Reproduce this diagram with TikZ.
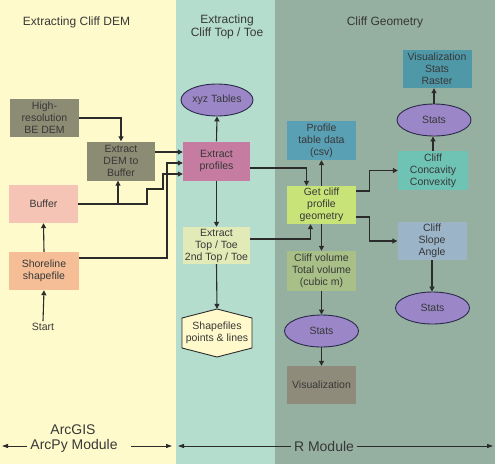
\documentclass[tikz,border=0pt]{standalone}
\usepackage{fontspec}
\setmainfont{Liberation Sans}
\usetikzlibrary{arrows.meta,shapes.geometric}
\definecolor{ylw}{HTML}{FFFACB}
\definecolor{tea}{HTML}{B5DDCE}
\definecolor{grn}{HTML}{95AFA0}
\definecolor{olv}{HTML}{8C8B73}
\definecolor{pnk}{HTML}{F6C4B4}
\definecolor{pch}{HTML}{F5BE96}
\definecolor{mauve}{HTML}{C57CA0}
\definecolor{paleyg}{HTML}{E2EAB7}
\definecolor{hexf}{HTML}{FFF9CC}
\definecolor{purp}{HTML}{9B87C8}
\definecolor{ellb}{HTML}{2A2A4A}
\definecolor{ptdc}{HTML}{5AA0B4}
\definecolor{gcpc}{HTML}{C8E478}
\definecolor{cvc}{HTML}{A8C088}
\definecolor{visc}{HTML}{8F8B7A}
\definecolor{vsrc}{HTML}{4E98A8}
\definecolor{cccc}{HTML}{6EC3B4}
\definecolor{csac}{HTML}{9BB4C8}
\definecolor{txt}{HTML}{383838}
\definecolor{lc}{HTML}{2B2B2B}
\tikzset{
  nfont/.style={font=\fontsize{10.5}{12}\selectfont},
  box/.style={rectangle, minimum width=69pt, minimum height=38pt, inner sep=1pt, align=center, nfont, text=txt},
  ell/.style={ellipse, draw=ellb, line width=0.9pt, fill=purp, minimum width=74pt, minimum height=32pt, inner sep=0pt, nfont, text=txt},
  arr/.style={draw=lc, line width=1.1pt, -{Triangle[length=5pt,width=5pt]}},
  arrb/.style={draw=lc, line width=0.9pt, -{Triangle[length=6pt,width=4pt]}},
  ttl/.style={font=\fontsize{12}{13}\selectfont, text=txt, align=center, inner sep=0pt},
  big/.style={font=\fontsize{14}{16}\selectfont, text=txt, inner sep=3pt},
}
\begin{document}
\begin{tikzpicture}[x=1pt,y=-1pt]
\useasboundingbox (0,0) rectangle (495,464);
% panels
\fill[ylw] (0,0) rectangle (176,464);
\fill[tea] (176,0) rectangle (275,464);
\fill[grn] (275,0) rectangle (495,464);
% titles
\node[ttl] (t1) at (76.5,22) {Extracting Cliff DEM};
\node[ttl] (t2) at (227,27) {Extracting\\Cliff Top / Toe};
\node[ttl] (t3) at (385,22) {Cliff Geometry};
% left column
\node[box, fill=olv] (hr) at (44.5,118) {High-\\resolution\\BE DEM};
\node[box, fill=olv, minimum width=68pt, minimum height=39pt] (edb) at (121,161) {Extract\\DEM to\\Buffer};
\node[box, fill=pnk] (buf) at (43.5,204) {Buffer};
\node[box, fill=pch, minimum width=70pt] (shore) at (44,271) {Shoreline\\shapefile};
\node[nfont, text=txt, inner sep=2pt] (start) at (43,327) {Start};
% middle column
\node[ell, minimum width=72pt] (xyz) at (217,100) {xyz Tables};
\node[box, fill=mauve, minimum width=67pt, minimum height=39pt] (ep) at (216.5,161) {Extract\\profiles};
\node[box, fill=paleyg, minimum width=67pt, minimum height=37pt] (ett) at (216.5,245.5) {Extract\\Top / Toe\\2nd Top / Toe};
\fill[hexf, draw=lc, line width=0.9pt] (217,309) -- (252,318) -- (252,348) -- (217,357) -- (182,348) -- (182,318) -- cycle;
\node[nfont, text=txt, align=center, minimum width=70pt, minimum height=48pt, inner sep=0pt] (shp) at (217,333) {Shapefiles\\points \& lines};
% right area
\node[box, fill=ptdc, minimum height=39pt] (ptd) at (321.5,140.5) {Profile\\table data\\(csv)};
\node[box, fill=gcpc] (gcp) at (321.5,205) {Get cliff\\profile\\geometry};
\node[box, fill=cvc, minimum height=40pt] (cv) at (321.5,271) {Cliff volume\\Total volume\\(cubic m)};
\node[ell] (st2) at (321.5,331) {Stats};
\node[box, fill=visc] (vis) at (321.5,385) {Visualization};
\node[box, fill=vsrc] (vsr) at (437,69) {Visualization\\Stats\\Raster};
\node[ell] (st1) at (434,120) {Stats};
\node[box, fill=cccc, minimum width=70pt, minimum height=39pt] (ccc) at (433,170.5) {Cliff\\Concavity\\Convexity};
\node[box, fill=csac] (csa) at (432,241) {Cliff\\Slope\\Angle};
\node[ell] (st3) at (432.5,308) {Stats};
% connectors left
\draw[arr] (hr.east) -| (edb.north);
\draw[arr] (buf.east) -| ([xshift=-3pt]edb.south);
\draw[arr] (buf.east) -| (147,189) -| (163,174) -- ([yshift=-13pt]ep.west);
\draw[arr] ([yshift=13pt]shore.east) -| (167,163) -- ([yshift=-2pt]ep.west);
\draw[arr] ([yshift=9pt]edb.east) -- ([yshift=9pt]ep.west);
\draw[arr] (shore.north) -- (buf.south);
\draw[arr] (start.north) -- (shore.south);
% connectors middle
\draw[arr] (ep.north) -- (xyz.south);
\draw[arr] (ep.south) -- (ett.north);
\draw[arr] (ett.south) -- (shp.north);
\draw[arr] ([yshift=-7pt]ep.east) -| ([xshift=-15pt]gcp.north);
\draw[arr] ([yshift=6.5pt]ett.east) -| ([xshift=-11pt]gcp.south);
% connectors right
\draw[arr] (gcp.north) -- (ptd.south);
\draw[arr] (gcp.south) -- (cv.north);
\draw[arr] (cv.south) -- (st2.north);
\draw[arr] (st2.south) -- (vis.north);
\draw[arr] ([yshift=14pt]gcp.east) -- ++(13,0) |- (ccc.west);
\draw[arr] ([yshift=-12pt]gcp.east) -- ++(13,0) |- (csa.west);
\draw[arr] (ccc.north) -- (ccc.north |- st1.south);
\draw[arr] (st1.north) -- (st1.north |- vsr.south);
\draw[arr] (csa.south) -- (csa.south |- st3.north);
% bottom module labels
\node[big] (arcgis) at (73,430) {ArcGIS};
\node[big] (arcpy) at (74,446) {ArcPy Module};
\node[big] (rmod) at (324,446) {R Module};
\coordinate (lA) at (2,446);
\coordinate (rA) at (172,446);
\coordinate (lR) at (178,446);
\coordinate (rR) at (493,446);
\draw[arrb] (arcpy.west) -- (lA);
\draw[arrb] ([xshift=10pt]arcpy.east) -- (rA);
\draw[arrb] (rmod.west) -- (lR);
\draw[arrb] (rmod.east) -- (rR);
\end{tikzpicture}
\end{document}
